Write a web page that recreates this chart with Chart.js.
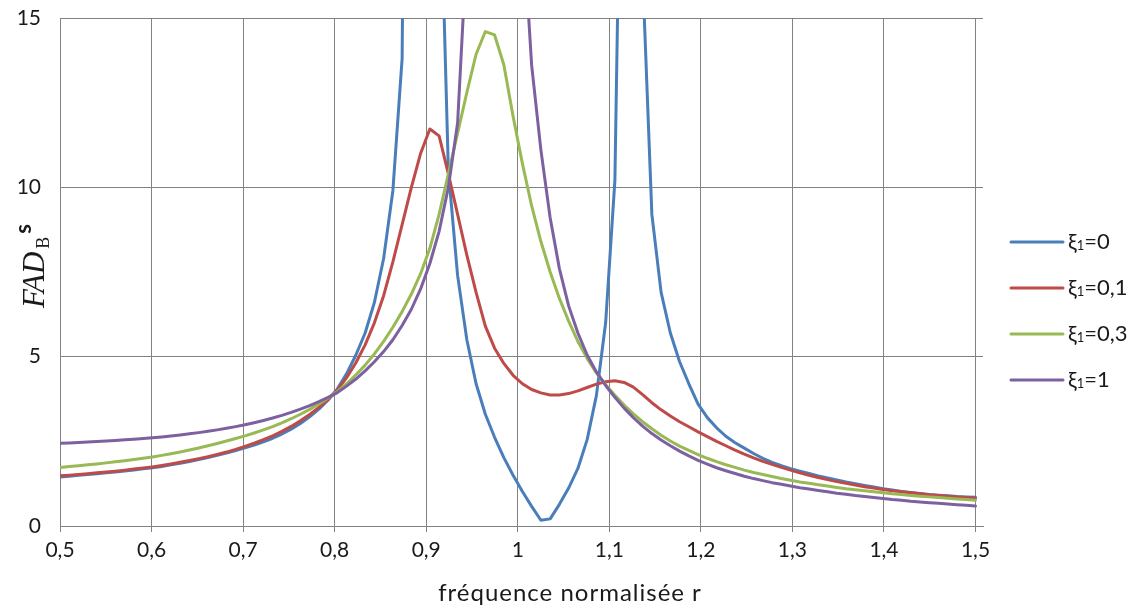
<!DOCTYPE html>
<html><head><meta charset="utf-8">
<script src="https://cdn.jsdelivr.net/npm/chart.js@4.4.1/dist/chart.umd.min.js"></script>
<style>html,body{margin:0;padding:0;background:#fff;overflow:hidden}#wrap{width:1131px;height:610px}</style>
</head><body><div id="wrap"><canvas id="c" width="1131" height="610"></canvas></div>
<script>
// normalised frequency r (100 samples)
const r = [0.5,0.5101,0.5202,0.5303,0.5404,0.5505,0.5606,0.5707,0.5808,0.5909,0.6010,0.6111,0.6212,0.6313,0.6414,0.6515,0.6616,0.6717,0.6818,0.6919,0.7020,0.7121,0.7222,0.7323,0.7424,0.7525,0.7626,0.7727,0.7828,0.7929,0.8030,0.8131,0.8232,0.8333,0.8434,0.8535,0.8636,0.8737,0.8838,0.8939,0.9040,0.9141,0.9242,0.9343,0.9444,0.9545,0.9646,0.9747,0.9848,0.9949,1.0051,1.0152,1.0253,1.0354,1.0455,1.0556,1.0657,1.0758,1.0859,1.0960,1.1061,1.1162,1.1263,1.1364,1.1465,1.1566,1.1667,1.1768,1.1869,1.1970,1.2071,1.2172,1.2273,1.2374,1.2475,1.2576,1.2677,1.2778,1.2879,1.2980,1.3081,1.3182,1.3283,1.3384,1.3485,1.3586,1.3687,1.3788,1.3889,1.3990,1.4091,1.4192,1.4293,1.4394,1.4495,1.4596,1.4697,1.4798,1.4899,1.5];
// xi1 = 0
const xi0 = [1.45,1.472,1.495,1.519,1.544,1.57,1.597,1.625,1.655,1.687,
1.72,1.76,1.805,1.855,1.905,1.96,2.02,2.085,2.155,2.23,
2.31,2.39,2.483,2.591,2.716,2.861,3.029,3.224,3.45,3.72,
4.05,4.5,5.05,5.7,6.6,7.9,9.9,13.8,45,120,
60,20.5,10.5,7.4,5.5,4.2,3.3,2.62,2.02,1.5,
1.02,0.58,0.17,0.21,0.64,1.12,1.7,2.55,3.85,6.0,
10.2,27,100,16.3,9.2,6.9,5.7,4.85,4.2,3.6,
3.2,2.9,2.65,2.46,2.3,2.14,2.0,1.88,1.78,1.69,
1.62,1.55,1.48,1.42,1.36,1.3,1.25,1.2,1.15,1.1,
1.06,1.02,0.99,0.96,0.93,0.91,0.89,0.87,0.86,0.85];
// xi1 = 0,1
const xi01 = [1.48,1.5,1.52,1.545,1.57,1.595,1.62,1.65,1.68,1.71,
1.745,1.785,1.83,1.88,1.932,1.988,2.048,2.113,2.183,2.261,
2.35,2.444,2.548,2.664,2.794,2.94,3.105,3.291,3.501,3.737,
4.02,4.38,4.82,5.35,6.0,6.8,7.8,8.9,10.0,11.0,
11.72,11.52,10.4,9.2,8.0,6.9,5.9,5.25,4.8,4.45,
4.2,4.03,3.93,3.87,3.87,3.91,3.99,4.09,4.19,4.26,
4.29,4.24,4.1,3.88,3.64,3.43,3.25,3.08,2.93,2.78,
2.64,2.5,2.37,2.24,2.12,2.01,1.91,1.82,1.73,1.65,
1.57,1.5,1.43,1.37,1.31,1.26,1.21,1.16,1.12,1.08,
1.04,1.01,0.98,0.95,0.92,0.9,0.88,0.86,0.84,0.82];
// xi1 = 0,3
const xi03 = [1.73,1.754,1.779,1.806,1.834,1.864,1.895,1.928,1.963,2.0,
2.04,2.085,2.134,2.187,2.244,2.304,2.368,2.436,2.508,2.582,
2.66,2.745,2.837,2.937,3.047,3.167,3.299,3.444,3.604,3.779,
3.97,4.2,4.46,4.75,5.08,5.45,5.87,6.33,6.85,7.45,
8.2,9.2,10.4,11.6,12.8,13.93,14.6,14.5,13.62,12.1,
10.7,9.45,8.4,7.5,6.72,6.05,5.45,4.95,4.52,4.17,
3.86,3.57,3.31,3.08,2.87,2.68,2.51,2.36,2.23,2.11,
2.0,1.9,1.81,1.73,1.65,1.58,1.52,1.46,1.4,1.35,
1.3,1.26,1.22,1.18,1.14,1.1,1.07,1.04,1.01,0.98,
0.95,0.93,0.9,0.88,0.86,0.84,0.82,0.8,0.78,0.76];
// xi1 = 1
const xi1 = [2.44,2.452,2.465,2.479,2.494,2.51,2.527,2.545,2.564,2.584,
2.606,2.631,2.658,2.688,2.721,2.757,2.796,2.838,2.884,2.934,
2.99,3.051,3.117,3.189,3.268,3.355,3.45,3.555,3.671,3.799,
3.94,4.13,4.34,4.58,4.85,5.15,5.5,5.92,6.4,7.0,
7.75,8.7,10.0,11.9,17.1,24,32,38,34,26,
18,13.6,11.1,9.1,7.6,6.5,5.7,5.05,4.55,4.15,
3.8,3.48,3.2,2.95,2.73,2.54,2.37,2.21,2.07,1.94,
1.83,1.72,1.63,1.55,1.47,1.4,1.34,1.28,1.23,1.18,
1.13,1.09,1.05,1.01,0.97,0.94,0.9,0.87,0.84,0.81,
0.78,0.76,0.73,0.71,0.69,0.67,0.65,0.63,0.61,0.59];

const seriesNames = ['0', '0,1', '0,3', '1'];
const seriesValues = [xi0, xi01, xi03, xi1];
const seriesColors = ['#4A7EBB', '#BE4B48', '#98B954', '#7D60A0'];
const xTitle = 'fréquence normalisée r';

const FONT = 'Lato, "Open Sans", sans-serif';
const GRID = '#828282';

const datasets = seriesValues.map((vals, i) => ({
  label: 'ξ1=' + seriesNames[i],
  data: vals.map((v, k) => ({x: r[k], y: v})),
  borderColor: seriesColors[i],
  backgroundColor: seriesColors[i],
  borderWidth: 3,
  pointRadius: 0,
  tension: 0,
  borderJoinStyle: 'round',
  borderCapStyle: 'round',
  order: 4 - i
}));

const decor = {
  id: 'decor',
  afterDraw(chart) {
    const ctx = chart.ctx;
    ctx.save();
    // x title
    ctx.fillStyle = '#1a1a1a';
    ctx.font = '24px ' + FONT;
    ctx.letterSpacing = '1px';
    ctx.textAlign = 'center';
    ctx.textBaseline = 'middle';
    ctx.fillText(xTitle, 570, 593);
    ctx.letterSpacing = '0px';
    // y title (rotated)
    ctx.save();
    ctx.translate(44, 308);
    ctx.rotate(-Math.PI / 2);
    ctx.textAlign = 'left';
    ctx.textBaseline = 'alphabetic';
    ctx.font = 'italic 31px "Liberation Serif", serif';
    ctx.fillText('FAD', 0, 0);
    let w = ctx.measureText('FAD').width;
    ctx.font = '18px "Liberation Serif", serif';
    ctx.fillText('B', w + 3, 5);
    const wb = ctx.measureText('B').width;
    ctx.font = 'bold 22px ' + FONT;
    ctx.fillText('s', w + wb + 6, -13);
    ctx.restore();
    // legend
    const ys = [242, 288, 334, 380];
    seriesNames.forEach((name, i) => {
      const y = ys[i];
      ctx.strokeStyle = seriesColors[i];
      ctx.lineWidth = 3;
      ctx.lineCap = 'round';
      ctx.beginPath();
      ctx.moveTo(1011, y);
      ctx.lineTo(1063, y);
      ctx.stroke();
      ctx.fillStyle = '#1a1a1a';
      ctx.textAlign = 'left';
      ctx.textBaseline = 'middle';
      ctx.font = '22px ' + FONT;
      let x = 1068;
      ctx.fillText('ξ', x, y);
      x += ctx.measureText('ξ').width;
      ctx.font = '13px ' + FONT;
      ctx.fillText('1', x, y + 4);
      x += ctx.measureText('1').width;
      ctx.font = '22px ' + FONT;
      ctx.fillText('=' + name, x, y);
    });
    ctx.restore();
  }
};

new Chart(document.getElementById('c'), {
  type: 'line',
  data: { datasets },
  options: {
    responsive: false,
    animation: false,
    devicePixelRatio: 1,
    layout: { padding: { left: 0, right: 148, top: 18, bottom: 0 } },
    plugins: { legend: { display: false }, tooltip: { enabled: false } },
    scales: {
      x: {
        type: 'linear',
        min: 0.5,
        max: 1.5082,
        afterFit: s => { s.height = 84; },
        ticks: {
          stepSize: 0.1,
          includeBounds: false,
          autoSkip: false,
          maxRotation: 0,
          color: '#1a1a1a',
          font: { family: FONT, size: 21 },
          padding: 6,
          callback: v => (Math.round(v * 10) / 10).toString().replace('.', ',')
        },
        grid: { color: GRID, lineWidth: 1, tickLength: 6, drawTicks: true },
        border: { display: true, color: GRID, width: 1 }
      },
      y: {
        type: 'linear',
        min: 0,
        max: 15,
        afterFit: s => { s.width = 60; s.paddingTop = 12; s.paddingBottom = 0; },
        ticks: {
          stepSize: 5,
          color: '#1a1a1a',
          font: { family: FONT, size: 21 },
          padding: 19
        },
        grid: { color: GRID, lineWidth: 1, drawTicks: false },
        border: { display: true, color: GRID, width: 1 }
      }
    }
  },
  plugins: [decor]
});
</script>
</body></html>
